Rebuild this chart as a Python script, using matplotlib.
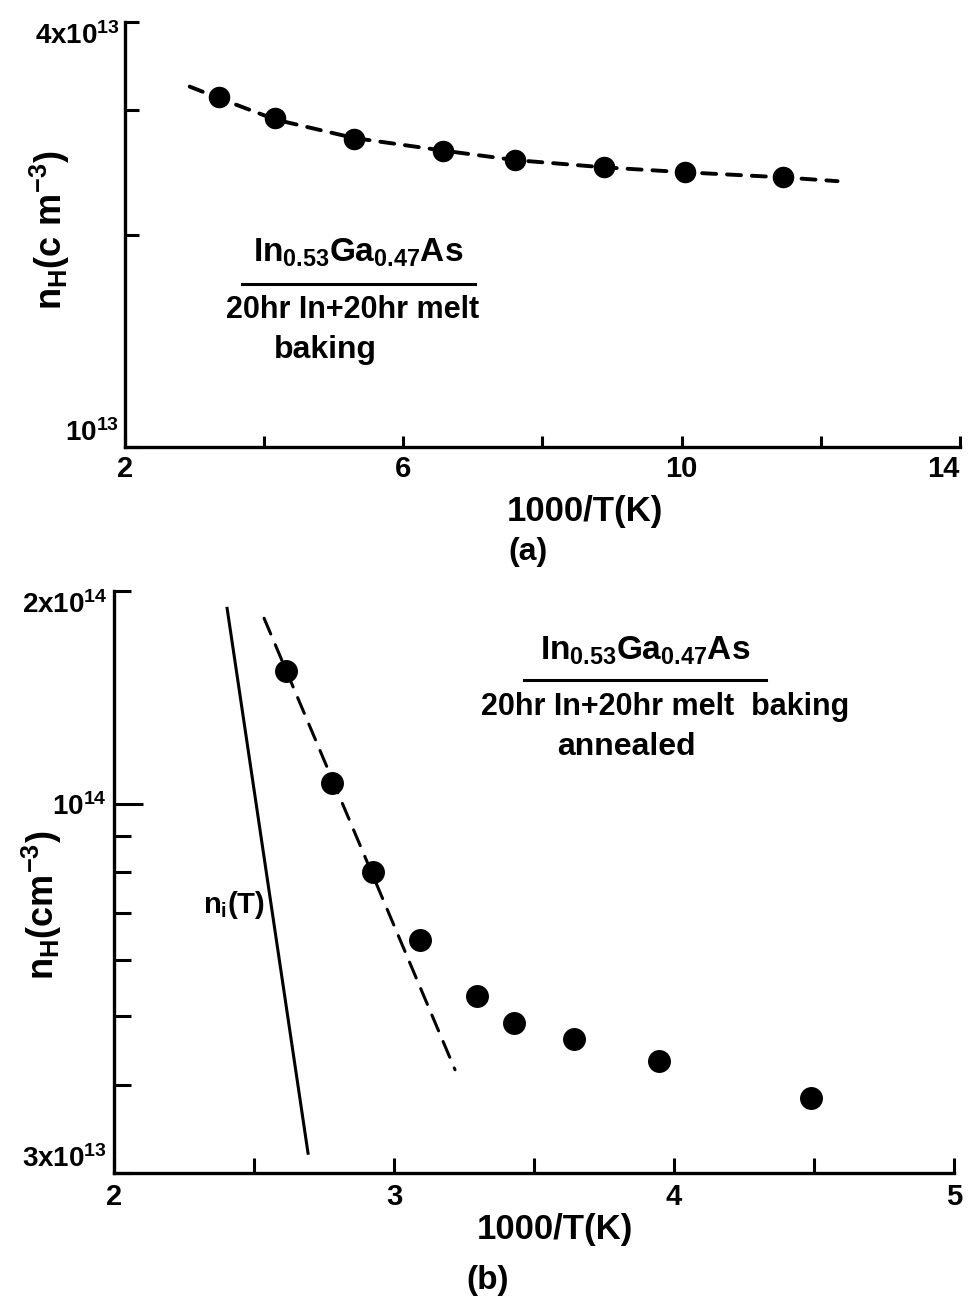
import numpy as np
import matplotlib
matplotlib.use('Agg')
import matplotlib.pyplot as plt
from matplotlib.lines import Line2D
from matplotlib.ticker import NullFormatter

plt.rcParams['font.family'] = ['Liberation Sans', 'DejaVu Sans']
plt.rcParams['font.weight'] = 'bold'
plt.rcParams['mathtext.fontset'] = 'custom'
plt.rcParams['mathtext.rm'] = 'Liberation Sans:bold'
plt.rcParams['mathtext.it'] = 'Liberation Sans:bold'
plt.rcParams['mathtext.bf'] = 'Liberation Sans:bold'
plt.rcParams['mathtext.sf'] = 'Liberation Sans:bold'

# panel (a): as-baked sample
xa = [3.35, 4.16, 5.29, 6.57, 7.60, 8.88, 10.05, 11.45]
ya = [3.13e13, 2.92e13, 2.73e13, 2.63e13, 2.55e13, 2.49e13, 2.45e13, 2.41e13]
fit_a_x = [2.93, 3.35, 4.16, 5.29, 6.57, 7.60, 8.88, 10.05, 11.45, 12.24]
fit_a_y = [3.24e13, 3.12e13, 2.91e13, 2.74e13, 2.63e13, 2.55e13, 2.49e13, 2.45e13, 2.41e13, 2.38e13]

# panel (b): annealed sample
xb = [2.614, 2.779, 2.925, 3.093, 3.296, 3.429, 3.643, 3.946, 4.489]
yb = [1.54e14, 1.07e14, 8.0e13, 6.41e13, 5.34e13, 4.89e13, 4.64e13, 4.32e13, 3.83e13]
fit_b_x = [2.536, 3.218]
fit_b_y = [1.83e14, 4.2e13]
ni_x = [2.404, 2.693]
ni_y = [1.89e14, 3.2e13]

W, H = 970, 1297
def fx(px): return px / W
def fy(py): return 1 - py / H

fig = plt.figure(figsize=(9.7, 12.97), dpi=100)

# ---------------- (a)
ax = fig.add_axes([fx(125), fy(447), 835 / W, 425 / H])
ax.set_yscale('log')
ax.plot(fit_a_x, fit_a_y, color='k', lw=2.8, linestyle=(0, (3.6, 2.8)),
        dash_capstyle='round')
ax.plot(xa, ya, 'o', color='k', ms=14.5)
ax.set_xlim(2, 14)
ax.set_ylim(1e13, 4e13)
ax.set_xticks([2, 6, 10, 14], labels=['2', '6', '10', '14'])
ax.set_xticks([4, 8, 12], minor=True)
ax.set_yticks([1e13, 4e13], labels=[r'$10^{13}$', r'$4x10^{13}$'])
ax.set_yticks([2e13, 3e13], minor=True)
ax.yaxis.set_minor_formatter(NullFormatter())
ax.tick_params(axis='x', which='both', direction='in', length=8, width=2.2,
               labelsize=21, pad=6)
ax.tick_params(axis='y', which='both', direction='in', length=10, width=2.2,
               labelsize=20, pad=4)
ax.get_xticklabels()[-1].set_horizontalalignment('right')
labs = ax.get_yticklabels()
labs[0].set_verticalalignment('bottom')
labs[1].set_verticalalignment('top')
for s in ['top', 'right']:
    ax.spines[s].set_visible(False)
for s in ['left', 'bottom']:
    ax.spines[s].set_linewidth(2.4)

fig.text(fx(50), fy(230), r'$n_H(c\ m^{-3})$', rotation=90, fontsize=26,
         ha='center', va='center')
fig.text(fx(585), fy(511), '1000/T(K)', fontsize=25, ha='center', va='center')
fig.text(fx(528), fy(552), '(a)', fontsize=23, ha='center', va='center')

fig.text(fx(358), fy(262), r'$In_{0.53}Ga_{0.47}As$', fontsize=24,
         ha='center', va='baseline')
fig.add_artist(Line2D([fx(242), fx(475)], [fy(284), fy(284)], lw=2.2, color='k'))
fig.text(fx(353), fy(318), '20hr In+20hr melt', fontsize=22, ha='center',
         va='baseline')
fig.text(fx(325), fy(358), 'baking', fontsize=23, ha='center', va='baseline')

# ---------------- (b)
bx = fig.add_axes([fx(114), fy(1173), 840 / W, 582 / H])
bx.set_yscale('log')
bx.plot(ni_x, ni_y, color='k', lw=2.2)
bx.plot(fit_b_x, fit_b_y, color='k', lw=2.2, linestyle=(0, (5.6, 3.8)),
        dash_capstyle='round')
bx.plot(xb, yb, 'o', color='k', ms=15.5)
bx.set_xlim(2, 5)
bx.set_ylim(3e13, 2e14)
bx.set_xticks([2, 3, 4, 5], labels=['2', '3', '4', '5'])
bx.set_xticks([2.5, 3.5, 4.5], minor=True)
bx.set_yticks([1e14], labels=[r'$10^{14}$'])
minor_b = [3e13, 4e13, 5e13, 6e13, 7e13, 8e13, 9e13, 2e14]
minor_lab = [r'$3x10^{13}$', '', '', '', '', '', '', r'$2x10^{14}$']
bx.set_yticks(minor_b, labels=minor_lab, minor=True)
bx.tick_params(axis='x', which='both', direction='in', length=11, width=2.2,
               labelsize=21, pad=7)
bx.tick_params(axis='y', which='major', direction='in', length=21, width=2.2,
               labelsize=20, pad=5)
bx.tick_params(axis='y', which='minor', direction='in', length=12, width=2.2,
               labelsize=20, pad=5)
mlabs = bx.get_yticklabels(minor=True)
mlabs[0].set_verticalalignment('bottom')
mlabs[-1].set_verticalalignment('top')
for s in ['top', 'right']:
    bx.spines[s].set_visible(False)
for s in ['left', 'bottom']:
    bx.spines[s].set_linewidth(2.4)

fig.text(fx(42), fy(905), r'$n_H(cm^{-3})$', rotation=90, fontsize=26,
         ha='center', va='center')
fig.text(fx(555), fy(1230), '1000/T(K)', fontsize=25, ha='center', va='center')
fig.text(fx(488), fy(1280), '(b)', fontsize=24, ha='center', va='center')
fig.text(fx(203), fy(913), r'$n_i(T)$', fontsize=21, ha='left', va='baseline')

fig.text(fx(645), fy(660), r'$In_{0.53}Ga_{0.47}As$', fontsize=24,
         ha='center', va='baseline')
fig.add_artist(Line2D([fx(524), fx(766)], [fy(680), fy(680)], lw=2.2, color='k'))
fig.text(fx(665), fy(715), '20hr In+20hr melt  baking', fontsize=22,
         ha='center', va='baseline')
fig.text(fx(626), fy(755), 'annealed', fontsize=23, ha='center', va='baseline')

fig.savefig('out.png', dpi=100)
